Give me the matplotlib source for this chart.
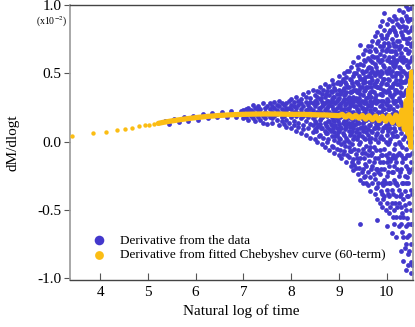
import matplotlib
matplotlib.use("Agg")
import matplotlib.pyplot as plt
import numpy as np

plt.rcParams['font.family'] = ['Liberation Serif', 'DejaVu Serif']
plt.rcParams['mathtext.fontset'] = 'stix'
plt.rcParams['axes.unicode_minus'] = False

# Fitted Chebyshev derivative (orange): sparse dots at early times
fit_sparse_x = [3.42, 3.85, 4.13, 4.35, 4.52, 4.67, 4.81, 4.93, 5.03, 5.12, 5.22]
fit_sparse_y = [0.044, 0.061, 0.071, 0.086, 0.095, 0.102, 0.115, 0.120, 0.124, 0.129, 0.134]
# dense part of fitted curve
fit_x = [5.22, 5.3, 5.5, 5.75, 6.0, 6.25, 6.5, 6.75, 7.0, 7.25, 7.5, 7.75, 8.0, 8.25, 8.5,
         8.75, 9.0, 9.07, 9.14, 9.21, 9.28, 9.35, 9.42, 9.49, 9.56, 9.63, 9.70, 9.77, 9.84,
         9.91, 9.98, 10.05, 10.12, 10.19, 10.26, 10.32, 10.37, 10.41, 10.44, 10.46, 10.48,
         10.50, 10.51, 10.52, 10.53]
fit_y = [0.134, 0.140, 0.152, 0.165, 0.176, 0.185, 0.192, 0.197, 0.200, 0.202, 0.203, 0.202,
         0.200, 0.200, 0.197, 0.195, 0.190, 0.200, 0.180, 0.197, 0.175, 0.193, 0.172, 0.192,
         0.165, 0.190, 0.160, 0.188, 0.155, 0.186, 0.150, 0.190, 0.140, 0.195, 0.125, 0.230,
         0.090, 0.300, 0.060, 0.380, 0.020, 0.450, -0.040, 0.510, 0.120]

# Derivative from the data (blue): points near the curve at early times
data_early_x = [5.35, 5.45, 5.55, 5.65, 5.75, 5.85, 5.95, 6.05, 6.15, 6.25, 6.35, 6.45,
                6.55, 6.65, 6.75, 6.85, 6.95]
data_early_y = [0.155, 0.13, 0.168, 0.142, 0.182, 0.15, 0.19, 0.162, 0.2, 0.172, 0.212,
                0.178, 0.215, 0.18, 0.222, 0.182, 0.226]

# Blue points in columns (x, list of y)
data_cols_x = [7.00, 7.05, 7.10, 7.15, 7.20, 7.25, 7.30, 7.35, 7.40, 7.45, 7.50, 7.55, 7.60,
               7.65, 7.70, 7.75, 7.80, 7.85, 7.90, 7.95, 8.00, 8.05, 8.10, 8.15, 8.20, 8.25,
               8.30, 8.35, 8.40, 8.45, 8.50, 8.55, 8.60, 8.65, 8.70, 8.75, 8.80, 8.85, 8.90,
               8.95, 9.00, 9.05, 9.10, 9.15, 9.20, 9.25, 9.30, 9.35, 9.40, 9.45, 9.50, 9.55,
               9.60, 9.65, 9.70, 9.75, 9.80, 9.85, 9.90, 9.95, 10.00, 10.05, 10.10, 10.15,
               10.20, 10.25, 10.30, 10.35, 10.40, 10.45, 10.50]
data_cols_y = [
    [0.17, 0.23, 0.21], [0.24, 0.18], [0.16, 0.22, 0.25], [0.19, 0.23], [0.27, 0.17, 0.22],
    [0.15, 0.25, 0.2], [0.23, 0.18, 0.26], [0.16, 0.21, 0.24], [0.28, 0.19, 0.14],
    [0.22, 0.17, 0.25], [0.26, 0.13, 0.2], [0.24, 0.18, 0.28], [0.14, 0.22, 0.26, 0.17],
    [0.25, 0.19, 0.29], [0.16, 0.23, 0.27, 0.2], [0.12, 0.26, 0.21, 0.3],
    [0.18, 0.24, 0.15, 0.28], [0.27, 0.13, 0.22, 0.19], [0.28, 0.16, 0.23, 0.11, 0.25],
    [0.2, 0.3, 0.14, 0.25], [0.24, 0.1, 0.27, 0.18, 0.31], [0.15, 0.22, 0.29, 0.12, 0.26],
    [0.33, 0.19, 0.08, 0.25, 0.22], [0.27, 0.14, 0.3, 0.2, 0.11],
    [0.31, 0.17, 0.24, 0.06, 0.28, 0.22], [0.12, 0.26, 0.35, 0.19, 0.09],
    [0.29, 0.15, 0.23, 0.33, 0.05, 0.2], [0.1, 0.27, 0.18, 0.36, 0.24],
    [0.32, 0.13, 0.25, 0.03, 0.21, 0.29], [0.38, 0.17, 0.07, 0.28, 0.23, 0.12],
    [0.26, 0.02, 0.34, 0.15, 0.3, 0.19, 0.09], [0.22, 0.37, 0.11, 0.28, 0.0, 0.33],
    [0.16, 0.31, 0.05, 0.25, 0.4, 0.13, 0.21], [0.29, -0.02, 0.35, 0.18, 0.1, 0.26],
    [0.33, 0.08, 0.23, 0.42, 0.14, -0.04, 0.28], [0.0, 0.19, 0.37, 0.11, 0.3, 0.25, 0.06],
    [0.27, 0.41, -0.06, 0.15, 0.34, 0.09, 0.22], [0.31, 0.04, 0.18, 0.45, 0.12, 0.26, -0.03, 0.36],
    [-0.08, 0.22, 0.39, 0.07, 0.29, 0.15, 0.33, 0.01], [0.25, 0.43, 0.1, -0.05, 0.35, 0.17, 0.3, 0.05],
    [0.48, 0.13, -0.1, 0.27, 0.38, 0.03, 0.21, 0.32, 0.08],
    [0.36, -0.02, 0.19, 0.44, 0.1, 0.28, -0.12, 0.24],
    [0.05, 0.31, 0.5, 0.15, -0.07, 0.39, 0.24, 0.0, 0.34],
    [0.42, 0.11, 0.28, -0.15, 0.2, 0.36, 0.03, 0.47, 0.16],
    [-0.04, 0.33, 0.52, 0.08, 0.25, -0.11, 0.4, 0.14, 0.29, 0.0],
    [0.45, 0.18, -0.18, 0.36, 0.06, 0.27, 0.55, -0.07, 0.12, 0.31],
    [0.22, -0.13, 0.41, 0.02, 0.33, 0.58, 0.1, -0.21, 0.29, 0.16, 0.48],
    [0.38, 0.07, -0.09, 0.26, 0.5, 0.13, -0.19, 0.44, 0.2, 0.32],
    [-0.24, 0.3, 0.62, 0.04, 0.42, 0.17, -0.06, 0.36, 0.23, 0.53, -0.15],
    [0.71, 0.1, 0.46, -0.12, 0.27, 0.57, 0.0, 0.35, -0.28, 0.19, 0.4, -0.6],
    [0.34, -0.2, 0.5, 0.08, 0.64, -0.05, 0.25, 0.43, 0.14, -0.3, 0.56, 0.2],
    [0.02, 0.47, -0.16, 0.3, 0.67, 0.11, -0.25, 0.38, 0.59, 0.22, -0.08, 0.44],
    [0.54, -0.1, 0.26, 0.7, 0.05, -0.32, 0.4, 0.17, 0.61, -0.22, 0.33, 0.48, 0.09],
    [-0.26, 0.36, 0.6, 0.12, -0.04, 0.5, 0.23, 0.66, -0.36, 0.3, 0.43, 0.0],
    [0.45, 0.07, -0.18, 0.58, 0.28, 0.74, -0.3, 0.15, 0.37, 0.52, -0.08, 0.63, 0.21],
    [0.1, 0.68, -0.38, 0.32, 0.49, -0.12, 0.24, 0.57, 0.02, 0.41, -0.27, 0.77, 0.16],
    [-0.57, 0.4, 0.18, 0.62, -0.2, 0.52, 0.06, 0.3, 0.72, -0.33, 0.45, 0.12, -0.42, 0.8],
    [0.26, -0.06, 0.58, 0.35, -0.45, 0.7, 0.14, 0.48, -0.24, 0.85, 0.03, 0.39, 0.64, -0.15],
    [0.5, -0.48, 0.2, 0.76, -0.1, 0.34, 0.6, -0.3, 0.08, 0.44, 0.88, -0.38, 0.27, 0.67],
    [-0.2, 0.94, 0.37, 0.11, 0.55, -0.4, 0.72, 0.24, -0.05, 0.46, 0.82, -0.28, 0.16, 0.63],
    [0.31, -0.62, 0.6, 0.05, 0.78, -0.35, 0.42, 0.19, -0.15, 0.68, 0.5, -0.45, 0.1, 0.86, 0.27, -0.25],
    [0.7, -0.08, 0.36, -0.52, 0.54, 0.13, 0.9, -0.3, 0.24, 0.62, -0.18, 0.45, 0.0, 0.8, -0.4],
    [-0.67, 0.48, 0.2, 0.75, -0.22, 0.33, 0.58, -0.45, 0.06, 0.88, 0.4, -0.12, 0.66, 0.15, -0.35, 0.52],
    [0.28, -0.5, 0.82, 0.1, 0.6, -0.28, 0.43, -0.05, 0.7, 0.2, -0.6, 0.92, 0.35, 0.55, -0.18],
    [0.64, -0.4, 0.22, 0.5, -0.7, 0.04, 0.78, 0.38, -0.15, 0.9, 0.14, -0.55, 0.58, 0.3, -0.3, 0.7, 0.45],
    [-0.08, 0.85, 0.32, -0.62, 0.55, 0.12, -0.25, 0.68, 0.42, -0.45, 0.96, 0.2, 0.74, -0.35, 0.0, 0.5],
    [0.4, -0.48, 0.7, 0.16, -0.8, 0.9, 0.28, -0.2, 0.6, 0.06, -0.6, 0.8, 0.48, -0.1, 0.35, -0.38, 0.65],
    [-0.87, 0.52, 0.1, 0.76, -0.3, 0.34, 0.95, -0.55, 0.22, 0.62, -0.12, 0.44, -0.7, 0.85, 0.02, -0.42, 0.58],
    [0.99, -0.94, 0.3, -0.18, 0.68, 0.12, -0.5, 0.84, 0.45, -0.75, 0.2, 0.6, -0.3, 0.92, -0.05, 0.38, -0.62, 0.75],
    [0.55, -0.4, 0.88, 0.1, -0.82, 0.36, 0.72, -0.2, 0.25, -0.6, 0.97, 0.0, 0.48, -0.9, 0.65, -0.3, 0.8, 0.15],
    [-0.96, 0.7, 0.2, -0.5, 0.9, 0.4, -0.15, 0.6, -0.75, 0.05, 0.82, -0.35, 0.3, -0.88, 0.98, 0.5, -0.6],
]

# More blue points between the columns above (denser late-time cloud)
data_cols2_x = [8.525, 8.575, 8.625, 8.675, 8.725, 8.775, 8.825, 8.875, 8.925, 8.975, 9.025,
                9.075, 9.125, 9.175, 9.225, 9.275, 9.325, 9.375, 9.425, 9.475, 9.525, 9.575,
                9.625, 9.675, 9.725, 9.775, 9.825, 9.875, 9.925, 9.975, 10.025, 10.075,
                10.125, 10.175, 10.225, 10.275, 10.325, 10.375, 10.425, 10.475, 10.525]
data_cols2_y = [
    [0.2, 0.08, 0.3, 0.14], [0.25, 0.12, 0.36, 0.04], [0.1, 0.22, 0.32, 0.17],
    [0.27, 0.03, 0.19, 0.38], [0.12, 0.24, 0.35, 0.06, 0.2], [0.3, 0.15, 0.02, 0.26, 0.4],
    [0.08, 0.2, 0.37, 0.13, 0.29], [0.24, -0.04, 0.33, 0.16, 0.42, 0.1],
    [0.19, 0.04, 0.28, 0.38, 0.12, 0.23], [0.31, 0.0, 0.15, 0.44, 0.21, 0.07],
    [0.11, 0.26, -0.06, 0.35, 0.18, 0.42, 0.02], [0.22, 0.46, 0.06, 0.3, -0.09, 0.14, 0.38],
    [0.35, 0.09, 0.19, -0.03, 0.27, 0.44, 0.12], [0.01, 0.24, 0.4, 0.13, 0.31, -0.1, 0.2, 0.52],
    [0.17, 0.36, -0.07, 0.27, 0.05, 0.46, 0.22, 0.11], [0.3, 0.08, 0.43, -0.15, 0.2, 0.14, 0.37, -0.02],
    [0.12, 0.26, 0.5, -0.05, 0.38, 0.19, 0.04, -0.17, 0.31],
    [0.44, 0.15, -0.12, 0.3, 0.02, 0.24, 0.56, 0.09, 0.36],
    [0.06, 0.28, 0.48, -0.19, 0.14, 0.38, -0.02, 0.21, 0.32],
    [0.25, -0.08, 0.4, 0.11, 0.52, -0.22, 0.17, 0.3, 0.04, 0.46],
    [0.15, 0.37, -0.12, 0.28, 0.6, 0.03, 0.22, -0.26, 0.45, 0.1],
    [0.32, -0.03, 0.16, 0.52, 0.24, -0.18, 0.4, 0.07, 0.28, -0.3],
    [0.12, 0.44, -0.14, 0.2, 0.55, 0.02, 0.35, -0.06, 0.27, 0.66],
    [0.4, -0.2, 0.26, 0.08, 0.54, 0.16, -0.1, 0.33, 0.7, 0.03, 0.47],
    [0.19, -0.04, 0.42, 0.3, -0.24, 0.1, 0.62, 0.24, -0.15, 0.36, 0.5],
    [0.34, 0.05, 0.55, -0.2, 0.2, 0.44, -0.06, 0.28, 0.66, 0.13, -0.34],
    [0.0, 0.3, 0.5, -0.12, 0.22, 0.6, -0.3, 0.4, 0.1, 0.74, 0.17, -0.22],
    [0.42, 0.16, -0.2, 0.6, 0.3, 0.04, -0.36, 0.52, 0.22, 0.78, -0.1, 0.35],
    [0.1, 0.38, -0.15, 0.56, 0.24, -0.32, 0.7, 0.02, 0.46, 0.3, -0.42, 0.18],
    [0.52, 0.2, -0.1, 0.36, 0.66, -0.3, 0.12, 0.42, -0.5, 0.28, 0.76, 0.0],
    [0.16, 0.46, -0.22, 0.6, 0.3, -0.02, 0.72, -0.38, 0.24, 0.52, 0.08, -0.12, 0.38],
    [0.4, -0.3, 0.1, 0.66, 0.26, -0.14, 0.82, 0.5, -0.48, 0.18, 0.34, 0.02, 0.58],
    [-0.1, 0.3, 0.56, 0.14, -0.38, 0.72, 0.42, -0.22, 0.04, 0.62, 0.24, -0.55, 0.84],
    [0.48, 0.08, -0.3, 0.66, 0.22, -0.12, 0.38, 0.8, -0.45, 0.3, 0.56, -0.02, 0.16],
    [0.18, -0.2, 0.6, 0.36, -0.48, 0.04, 0.74, 0.26, -0.1, 0.5, 0.86, -0.32, 0.42],
    [0.54, -0.02, 0.3, -0.4, 0.7, 0.1, -0.22, 0.45, 0.84, 0.2, -0.55, 0.62, 0.36],
    [-0.15, 0.26, 0.6, -0.52, 0.44, 0.1, 0.78, -0.3, 0.2, 0.52, -0.04, 0.88, 0.34, -0.66],
    [0.36, -0.25, 0.68, 0.14, -0.46, 0.5, 0.04, 0.82, -0.12, 0.26, 0.6, -0.36, 0.44, -0.78],
    [-0.1, 0.48, 0.22, -0.56, 0.72, 0.06, 0.36, -0.26, 0.9, 0.56, -0.4, 0.14, -0.7, 0.28],
    [0.4, -0.22, 0.76, 0.06, -0.45, 0.58, 0.2, -0.68, 0.9, -0.1, 0.32, 0.66, -0.8, 0.5],
    [0.24, -0.38, 0.62, -0.08, 0.84, 0.44, -0.6, 0.1, -0.2, 0.52, 0.72, -0.9, 0.34, 0.0],
]

x_ticks = [4, 5, 6, 7, 8, 9, 10]
y_ticks = [-1.0, -0.5, 0.0, 0.5, 1.0]

blue = '#4338cc'
orange = '#fbbd14'

fig = plt.figure(figsize=(4.15, 3.27), dpi=100)
ax = fig.add_axes([0.1687, 0.1437, 0.8265, 0.841])

bx = list(data_early_x)
by = list(data_early_y)
for cols_x, cols_y in ((data_cols_x, data_cols_y), (data_cols2_x, data_cols2_y)):
    for cx, ys in zip(cols_x, cols_y):
        bx.extend([cx] * len(ys))
        by.extend(ys)

ax.scatter(bx, by, s=12, color=blue, linewidths=0, zorder=2,
           label='Derivative from the data')
ax.plot(fit_x, fit_y, color=orange, lw=3.8, solid_capstyle='round',
        solid_joinstyle='round', zorder=3)
ax.scatter(fit_sparse_x, fit_sparse_y, s=10, color=orange, linewidths=0, zorder=3,
           label='Derivative from fitted Chebyshev curve (60-term)')

ax.set_xlim(3.37, 10.55)
ax.set_ylim(-1.012, 1.0)
ax.set_xticks(x_ticks)
ax.set_xticklabels([str(v) for v in x_ticks], fontsize=11)
ax.set_yticks(y_ticks)
ax.set_yticklabels(['%.1f' % v for v in y_ticks], fontsize=11)
ax.tick_params(axis='x', direction='in', length=5, color='#555555', pad=4)
ax.tick_params(axis='y', direction='out', length=4, color='#555555', pad=2)

for side in ['left', 'right']:
    ax.spines[side].set_color('#999999')
    ax.spines[side].set_linewidth(1.2)
for side in ['top', 'bottom']:
    ax.spines[side].set_color('#444444')
    ax.spines[side].set_linewidth(1.0)

ax.set_xlabel('Natural log of time', fontsize=11, labelpad=4)
ax.set_ylabel('dM/dlogt', fontsize=11, labelpad=13)
fig.text(0.125, 0.932, r'(x10$^{-2}$)', fontsize=7, ha='center', va='center')

leg = ax.legend(loc='lower left', bbox_to_anchor=(0.03, 0.05), frameon=False,
                fontsize=9.5, handletextpad=0.6, markerscale=2.0,
                labelspacing=0.15, borderaxespad=0.0)

fig.savefig('out.png', dpi=100)
